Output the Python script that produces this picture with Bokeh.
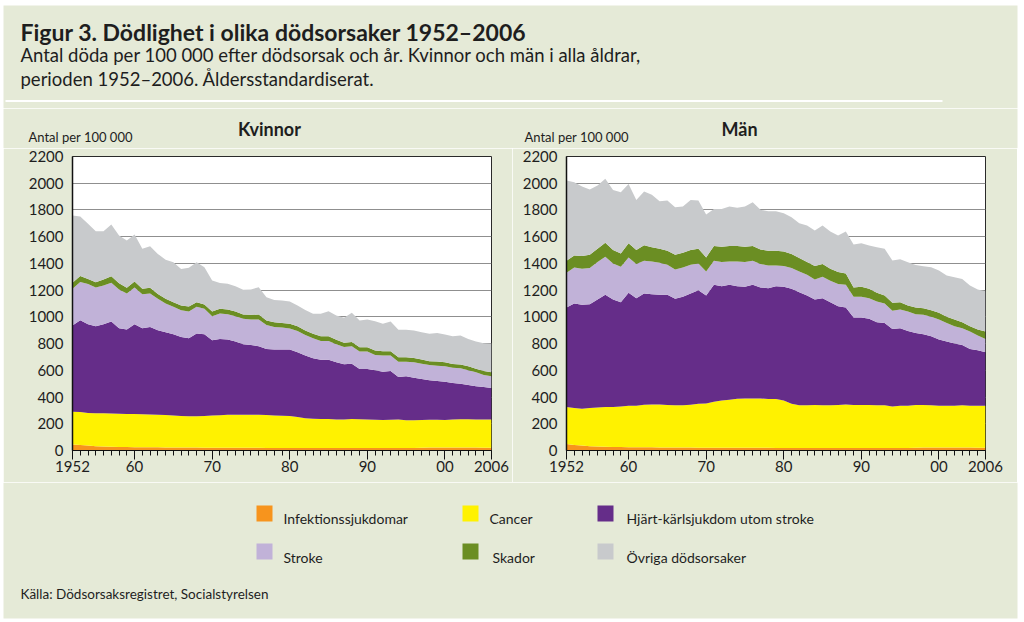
from bokeh.plotting import figure
from bokeh.layouts import column, row, Spacer
from bokeh.models import Range1d, FixedTicker
from bokeh.embed import file_html
from bokeh.resources import INLINE
from bokeh.core.properties import value

# ---------------- data (upper edge of each stacked band, per 100 000) ----------------
years = list(range(1952, 2007))

# Kvinnor
kv_inf = [45, 42, 38, 32, 30, 28, 27, 26, 25, 25,
          24, 24, 23, 23, 22, 22, 22, 21, 21, 20,
          20, 20, 20, 20, 20, 19, 19, 19, 18, 18,
          18, 18, 18, 18, 18, 18, 18, 18, 18, 18,
          18, 18, 18, 18, 19, 20, 22, 22, 22, 22,
          22, 22, 22, 21, 20]
kv_can = [290, 288, 280, 278, 278, 276, 275, 274, 274, 272,
          270, 268, 266, 262, 258, 256, 256, 258, 262, 264,
          268, 268, 268, 268, 268, 265, 262, 260, 258, 250,
          242, 238, 235, 235, 232, 232, 235, 234, 232, 230,
          228, 230, 232, 226, 226, 228, 230, 230, 229, 232,
          234, 233, 232, 232, 232]
kv_hjk = [935, 975, 945, 930, 945, 965, 915, 905, 945, 915,
          925, 900, 885, 870, 850, 840, 875, 870, 825, 835,
          830, 815, 795, 790, 780, 760, 755, 755, 755, 735,
          710, 690, 680, 680, 660, 645, 650, 610, 610, 600,
          590, 595, 550, 555, 545, 535, 525, 520, 515, 505,
          500, 490, 480, 475, 468]
kv_str = [1210, 1260, 1245, 1220, 1235, 1255, 1205, 1175, 1220, 1170,
          1175, 1135, 1100, 1075, 1050, 1040, 1075, 1060, 1005, 1025,
          1020, 1005, 985, 980, 980, 940, 925, 920, 912, 895,
          865, 840, 820, 820, 795, 775, 780, 740, 740, 715,
          710, 710, 665, 665, 660, 650, 640, 635, 630, 620,
          615, 600, 585, 565, 555]
kv_sk = [1255, 1305, 1284, 1259, 1280, 1304, 1252, 1217, 1264, 1210,
         1217, 1172, 1135, 1110, 1085, 1077, 1110, 1092, 1040, 1060,
         1055, 1040, 1018, 1015, 1018, 973, 960, 955, 948, 930,
         898, 873, 855, 855, 828, 806, 811, 773, 773, 748,
         743, 743, 698, 698, 693, 681, 668, 666, 661, 648,
         643, 631, 611, 594, 586]
kv_tot = [1758, 1751, 1696, 1641, 1641, 1691, 1609, 1571, 1616, 1509,
          1529, 1471, 1427, 1409, 1359, 1367, 1409, 1372, 1272, 1254,
          1247, 1230, 1202, 1205, 1222, 1147, 1127, 1122, 1115, 1085,
          1052, 1023, 1023, 1042, 1010, 993, 1030, 973, 980, 968,
          948, 965, 903, 903, 898, 885, 873, 880, 868, 855,
          860, 835, 815, 803, 798]

# Män
mn_inf = [48, 42, 38, 32, 30, 28, 27, 26, 25, 25,
          24, 24, 23, 23, 22, 22, 22, 21, 21, 21,
          20, 20, 20, 20, 20, 20, 20, 19, 19, 19,
          18, 18, 18, 18, 18, 18, 18, 18, 18, 18,
          18, 18, 18, 18, 19, 20, 22, 22, 22, 22,
          22, 22, 22, 21, 20]
mn_can = [325, 318, 312, 318, 322, 325, 325, 330, 335, 335,
          342, 345, 345, 340, 338, 338, 342, 350, 352, 365,
          375, 380, 388, 390, 390, 390, 385, 385, 375, 350,
          338, 338, 340, 338, 338, 340, 345, 340, 340, 340,
          338, 338, 330, 335, 335, 340, 340, 338, 335, 335,
          335, 338, 335, 335, 335]
mn_hjk = [1070, 1100, 1090, 1095, 1130, 1165, 1130, 1110, 1180, 1140,
          1175, 1170, 1165, 1165, 1135, 1150, 1175, 1200, 1160, 1240,
          1230, 1240, 1230, 1225, 1240, 1220, 1215, 1230, 1225, 1210,
          1185, 1160, 1130, 1140, 1110, 1080, 1070, 995, 995, 985,
          960, 955, 910, 915, 895, 880, 870, 855, 830, 815,
          800, 790, 760, 750, 735]
mn_str = [1330, 1370, 1360, 1365, 1410, 1450, 1400, 1375, 1445, 1395,
          1420, 1415, 1405, 1390, 1355, 1370, 1390, 1400, 1340, 1420,
          1410, 1415, 1415, 1410, 1420, 1395, 1385, 1385, 1380, 1365,
          1340, 1315, 1280, 1300, 1270, 1245, 1240, 1150, 1150, 1140,
          1115, 1100, 1045, 1055, 1040, 1020, 1015, 1000, 980, 955,
          930, 915, 890, 860, 835]
mn_sk = [1420, 1460, 1455, 1465, 1510, 1555, 1500, 1475, 1550, 1500,
         1535, 1520, 1510, 1495, 1465, 1480, 1500, 1510, 1445, 1530,
         1525, 1530, 1530, 1525, 1530, 1505, 1495, 1495, 1490, 1470,
         1440, 1410, 1380, 1395, 1360, 1335, 1325, 1220, 1225, 1210,
         1180, 1160, 1105, 1110, 1085, 1070, 1065, 1050, 1030, 1000,
         980, 960, 930, 905, 890]
mn_tot = [2020, 2008, 1975, 1953, 1983, 2033, 1950, 1933, 1995, 1875,
          1938, 1913, 1866, 1871, 1821, 1826, 1875, 1871, 1766, 1808,
          1808, 1826, 1816, 1826, 1858, 1801, 1791, 1791, 1776, 1746,
          1701, 1683, 1646, 1683, 1639, 1609, 1639, 1541, 1551, 1534,
          1521, 1509, 1422, 1432, 1409, 1389, 1379, 1372, 1347, 1309,
          1297, 1284, 1235, 1205, 1192]

causes = ["Infektionssjukdomar", "Cancer", "Hjärt-kärlsjukdom utom stroke",
          "Stroke", "Skador", "Övriga dödsorsaker"]
colors = ["#f7941d", "#fff200", "#652d89", "#c1b2d8", "#6b8e23", "#c8cacc"]

x_ticks = [1952, 1960, 1970, 1980, 1990, 2000, 2006]
x_tick_labels = ["1952", "60", "70", "80", "90", "00", "2006"]
y_ticks = list(range(0, 2201, 200))

panel_titles = ["Kvinnor", "Män"]
title_text = "Figur 3. Dödlighet i olika dödsorsaker 1952–2006"
subtitle_1 = "Antal döda per 100 000 efter dödsorsak och år. Kvinnor och män i alla åldrar,"
subtitle_2 = "perioden 1952–2006. Åldersstandardiserat."
source_text = "Källa: Dödsorsaksregistret, Socialstyrelsen"
y_unit = "Antal per 100 000"

# ---------------- styling ----------------
BG = "#e5ead7"
FONT = "Lato"
TXT = "#1e1e1e"
W = 1024


def chart(tops, width, bl, br):
    p = figure(width=width, height=334, x_range=Range1d(1952, 2006), y_range=Range1d(0, 2200),
               output_backend="svg", toolbar_location=None,
               min_border_left=bl, min_border_right=br, min_border_top=8, min_border_bottom=32,
               background_fill_color="white", border_fill_color=BG)
    p.outline_line_color = "#2a2a2a"
    p.outline_line_width = 1
    zero = [0] * len(years)
    lows = [zero] + tops[:-1]
    for lo, hi, col in zip(lows, tops, colors):
        p.varea(x=years, y1=lo, y2=hi, fill_color=col, fill_alpha=1)
    p.xgrid.visible = False
    p.ygrid.ticker = FixedTicker(ticks=y_ticks)
    p.ygrid.grid_line_color = "#8f8f8f"
    p.ygrid.grid_line_width = 1

    p.yaxis.ticker = FixedTicker(ticks=y_ticks)
    p.yaxis.major_tick_out = 0
    p.yaxis.major_tick_in = 0
    p.yaxis.minor_tick_out = 0
    p.yaxis.minor_tick_in = 0
    p.yaxis.major_label_standoff = 9
    p.yaxis.axis_line_color = "#111111"
    p.yaxis.axis_line_width = 1.5

    p.xaxis.ticker = FixedTicker(ticks=x_ticks, minor_ticks=years)
    p.xaxis.major_label_overrides = {t: s for t, s in zip(x_ticks, x_tick_labels)}
    p.xaxis.major_tick_out = 9
    p.xaxis.major_tick_in = 0
    p.xaxis.minor_tick_out = 5
    p.xaxis.minor_tick_in = 0
    p.xaxis.major_label_standoff = 1
    p.xaxis.axis_line_color = "#111111"
    p.xaxis.major_tick_line_color = "#111111"
    p.xaxis.minor_tick_line_color = "#111111"

    for ax in (p.xaxis, p.yaxis):
        ax.major_label_text_font = FONT
        ax.major_label_text_font_size = "15px"
        ax.major_label_text_color = TXT
    return p


def canvas(h, top_pad=0, bottom_pad=0):
    c = figure(width=W, height=h, x_range=Range1d(0, W), y_range=Range1d(h, 0),
               output_backend="svg", toolbar_location=None, min_border=0,
               x_axis_type=None, y_axis_type=None,
               background_fill_color="white", border_fill_color="white")
    c.outline_line_color = None
    c.grid.visible = False
    c.quad(left=[3], right=[1017], top=[top_pad], bottom=[h - bottom_pad],
           fill_color=BG, line_color=None)
    return c


# header
head = canvas(108, top_pad=5)
head.text(x=[20], y=[31], text=[title_text], text_font=value(FONT), text_font_style="bold",
          text_font_size="23px", text_color=TXT, text_baseline="alphabetic")
head.text(x=[20, 20], y=[54, 78], text=[subtitle_1, subtitle_2], text_font=value(FONT),
          text_font_size="18.5px", text_color=TXT, text_baseline="alphabetic")
head.segment(x0=[5], y0=[100.5], x1=[942], y1=[100.5], line_color="white", line_width=2)

# strip with panel titles and unit labels
strip = canvas(40)
strip.text(x=[269, 739], y=[20, 20], text=panel_titles, text_font=value(FONT),
           text_font_style="bold", text_font_size="18px", text_color=TXT,
           text_align="center", text_baseline="alphabetic")
strip.text(x=[28, 524], y=[28, 28], text=[y_unit, y_unit], text_font=value(FONT),
           text_font_size="13px", text_color=TXT, text_baseline="alphabetic")

# charts
kv = chart([kv_inf, kv_can, kv_hjk, kv_str, kv_sk, kv_tot], 509, 69, 21)
mn = chart([mn_inf, mn_can, mn_hjk, mn_str, mn_sk, mn_tot], 505, 54, 32)
charts = row(Spacer(width=3, height=334), kv, mn, Spacer(width=7, height=334), spacing=0)

# footer with legend and source
foot = canvas(140, bottom_pad=4)
sw_left = [256, 462, 597, 256, 462, 597]
sw_top = [23, 23, 23, 61, 61, 61]
txt_x = [283, 489, 626, 283, 492, 626]
txt_y = [36, 36, 36, 75, 75, 75]
foot.quad(left=sw_left, right=[v + 16 for v in sw_left], top=sw_top,
          bottom=[v + 16 for v in sw_top], fill_color=colors, line_color=None)
foot.text(x=txt_x, y=txt_y, text=causes, text_font=value(FONT), text_font_size="14px",
          text_color=TXT, text_baseline="alphabetic")
foot.text(x=[20], y=[111], text=[source_text], text_font=value(FONT), text_font_size="13.5px",
          text_color=TXT, text_baseline="alphabetic")

layout = column(head, strip, charts, foot, spacing=0)
open("out.html", "w").write(file_html(layout, INLINE))
